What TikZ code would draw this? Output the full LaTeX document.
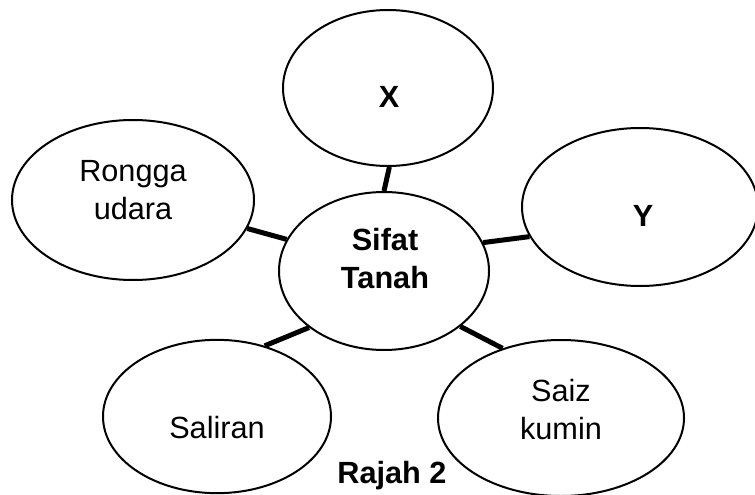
\documentclass[tikz,border=0pt]{standalone}
\usepackage{fontspec}
\setmainfont{Liberation Sans}
\usetikzlibrary{shapes}
\tikzset{
  bubble/.style = {ellipse, draw=black, line width=1.5pt, inner sep=0pt},% ellipse vide
  txt/.style = {align=center, inner sep=0pt, font=\fontsize{23}{28.5}\selectfont},
  btxt/.style = {txt, font=\fontsize{23}{28.5}\selectfont\bfseries},% texte gras
  link/.style = {line width=3.75pt},
}

\begin{document}
\begin{tikzpicture}[x=0.75pt,y=-0.75pt]
\useasboundingbox (0,0) rectangle (755,495);
% les ellipses
\node [bubble, minimum width=157.5pt, minimum height=118.5pt] (centre) at (384,271) {};
\node [bubble, minimum width=157.5pt, minimum height=117pt] (x) at (388,88) {};
\node [bubble, minimum width=181.5pt, minimum height=120pt] (rongga) at (133,200) {};
\node [bubble, minimum width=177pt, minimum height=118.5pt] (y) at (640,207) {};
\node [bubble, minimum width=171pt, minimum height=115pt] (saliran) at (217,416.5) {};
\node [bubble, minimum width=184.5pt, minimum height=117pt] (saiz) at (561,418) {};
% les textes
\node [btxt] (tcentre) at (385,259) {Sifat\\Tanah};
\node [btxt] (tx) at (389,97) {X};
\node [txt] (trongga) at (133,190) {Rongga\\udara};
\node [btxt] (ty) at (643,216) {Y};
\node [txt] (tsaliran) at (217,428) {Saliran};
\node [txt] (tsaiz) at (561,410) {Saiz\\kumin};
\node [btxt] (rajah) at (392,476) {Rajah 2};
% les liens
\draw [link] (centre.90) -- (x.-89);
\draw [link] (centre.162) -- (rongga.-14);
\draw [link] (centre.16) -- (y.195);
\draw [link] (centre.217) -- (saliran.56);
\draw [link] (centre.-36) -- (saiz.130);
\end{tikzpicture}
\end{document}
